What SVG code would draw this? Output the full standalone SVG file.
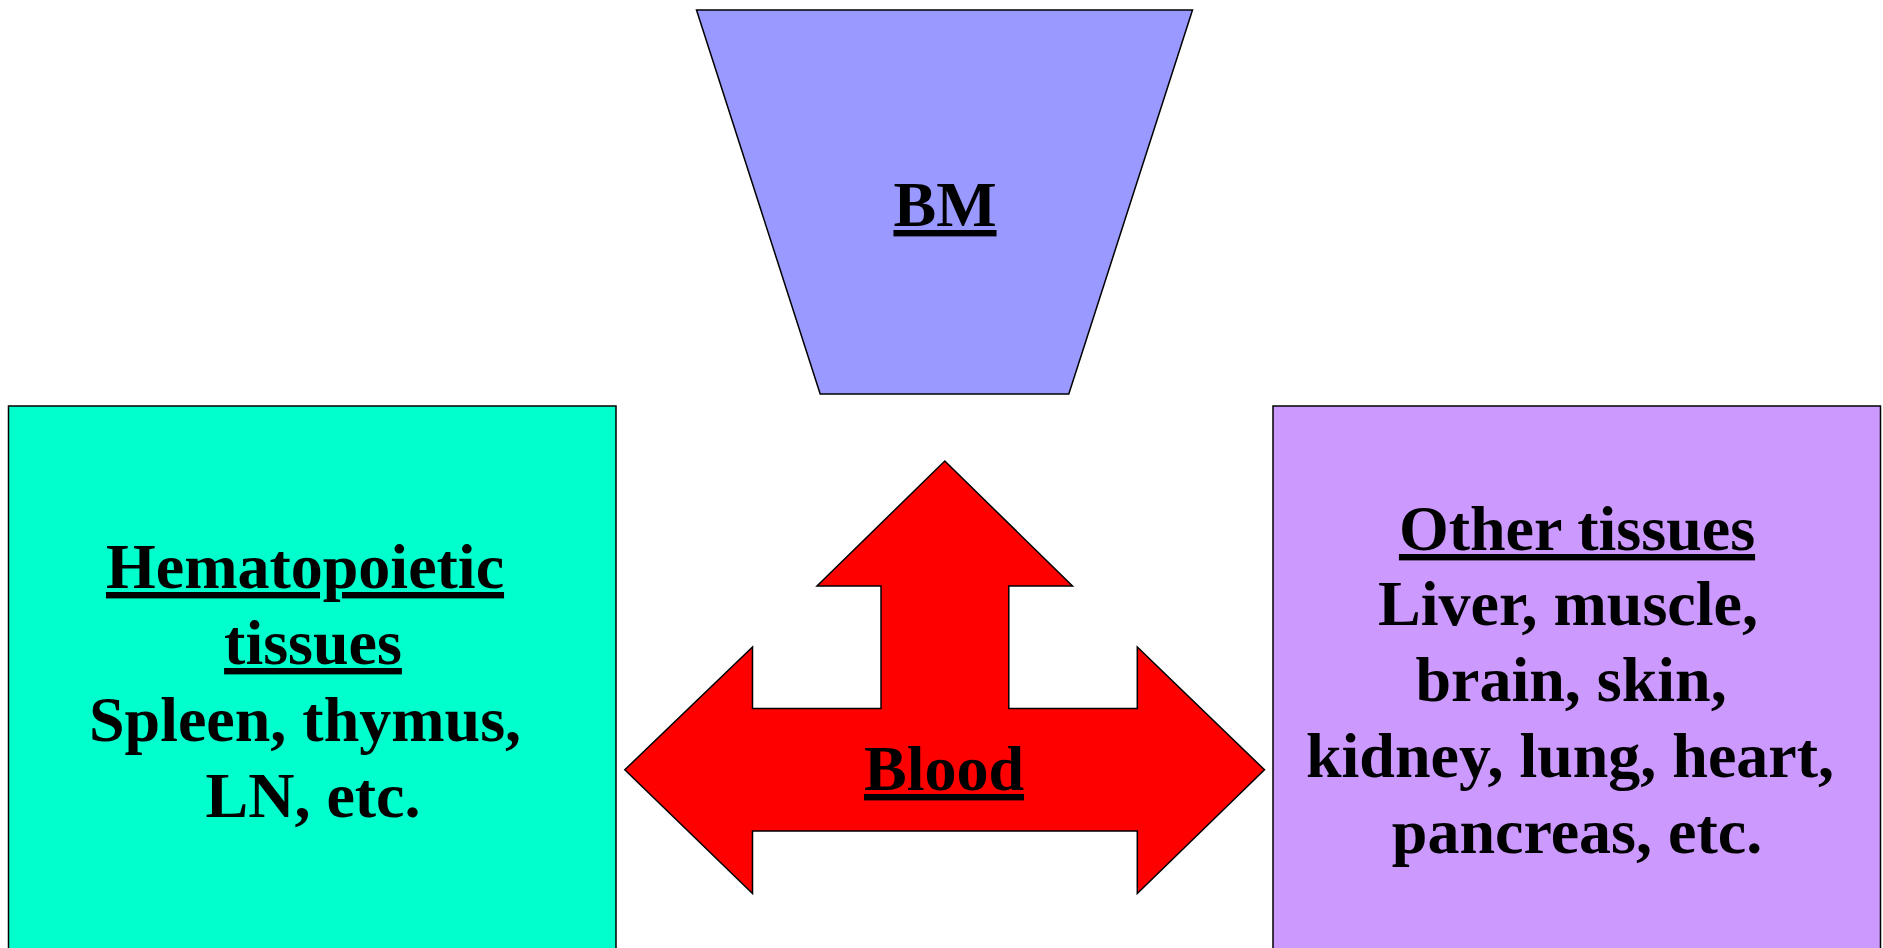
<svg xmlns="http://www.w3.org/2000/svg" width="1883" height="948" viewBox="0 0 1883 948">
<style>
.shape{stroke:#000;stroke-width:1.5;stroke-linejoin:miter}
.t{font-family:"Liberation Serif","Times New Roman",serif;font-weight:bold;font-size:64px;fill:#000;text-anchor:middle}
.u{text-decoration:underline}
</style>
<rect width="1883" height="948" fill="#fff"/>
<g id="bm">
<polygon class="shape" fill="#9999FF" points="696.5,10 1192.5,10 1068.8,394 820.2,394"/>
<text class="t u" x="945" y="226">BM</text>
</g>
<g id="hematopoietic">
<rect class="shape" fill="#00FFCC" x="8.5" y="406" width="607.5" height="560"/>
<text class="t"><tspan class="u" x="305" y="588">Hematopoietic</tspan><tspan class="u" x="313" y="664">tissues</tspan><tspan x="305" y="741">Spleen, thymus,</tspan><tspan x="313" y="817">LN, etc.</tspan></text>
</g>
<g id="other">
<rect class="shape" fill="#CC99FF" x="1273" y="406" width="607.5" height="560"/>
<text class="t"><tspan class="u" x="1577" y="550">Other tissues</tspan><tspan x="1568" y="625">Liver, muscle,</tspan><tspan x="1571" y="701">brain, skin,</tspan><tspan x="1570" y="777">kidney, lung, heart,</tspan><tspan x="1577" y="853">pancreas, etc.</tspan></text>
</g>
<g id="connectors">
<g id="blood">
<polygon class="shape" fill="#FF0000" points="944.8,461 1072.5,586 1008.8,586 1008.8,708.5 1137.3,708.5 1137.3,647 1264.5,769.8 1137.3,893.5 1137.3,831 752.5,831 752.5,893.5 624.8,769.8 752.5,647 752.5,708.5 881,708.5 881,586 817,586"/>
<text class="t u" x="944" y="790">Blood</text>
</g>
</g>
</svg>
